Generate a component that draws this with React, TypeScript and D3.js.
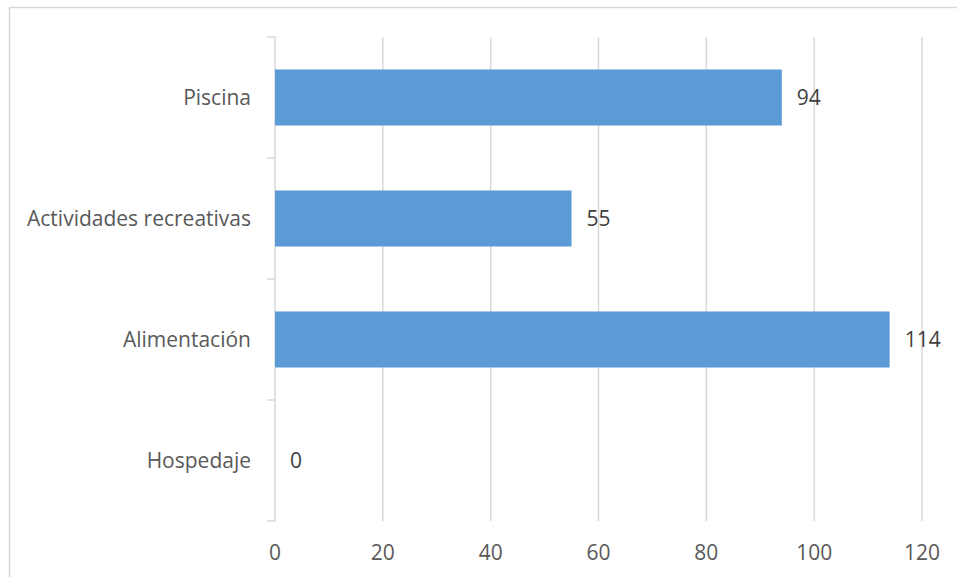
import React from "react";
import * as d3 from "d3";

const categories = ["Piscina", "Actividades recreativas", "Alimentación", "Hospedaje"];
const values = [94, 55, 114, 0];
const xTicks = [0, 20, 40, 60, 80, 100, 120];

export default function App() {
  const W = 957, H = 577;
  const left = 275, right = 922, top = 37, bottom = 521;
  const x = d3.scaleLinear().domain([0, 120]).range([left, right]);
  const y = d3.scaleBand<string>().domain(categories).range([top, bottom]).padding(0);
  const bw = y.bandwidth();
  const barH = bw * 0.463;
  const font = "'Open Sans', sans-serif";
  const grid = "#D9D9D9";
  return (
    <svg width={W} height={H} style={{ position: "absolute", left: 0, top: 0, display: "block" }}>
      <rect x={0} y={0} width={W} height={H} fill="#fff" />
      <rect x={9.5} y={7.5} width={1000} height={1000} fill="none" stroke={grid} strokeWidth={1.5} />
      {xTicks.slice(1).map((t) => (
        <line key={t} x1={x(t)} x2={x(t)} y1={top} y2={bottom} stroke={grid} strokeWidth={1.5} />
      ))}
      <line x1={left} x2={left} y1={top} y2={bottom} stroke={grid} strokeWidth={1.5} />
      {[...categories.map((c) => y(c)!), bottom].map((v, i) => (
        <line key={i} x1={left - 8} x2={left} y1={v} y2={v} stroke={grid} strokeWidth={1.5} />
      ))}
      {categories.map((c, i) => {
        const yc = y(c)! + bw / 2;
        return (
          <g key={c}>
            {values[i] > 0 && (
              <rect x={x(0)} y={yc - barH / 2} width={x(values[i]) - x(0)} height={barH} fill="#5B9BD5" />
            )}
            <text x={left - 24} y={yc} dy="0.35em" textAnchor="end" fontFamily={font} fontSize={21} fill="#595959">
              {c}
            </text>
            <text x={x(values[i]) + 15} y={yc} dy="0.35em" textAnchor="start" fontFamily={font} fontSize={21} fill="#404040">
              {values[i]}
            </text>
          </g>
        );
      })}
      {xTicks.map((t) => (
        <text key={t} x={x(t)} y={553} dy="0.35em" textAnchor="middle" fontFamily={font} fontSize={21} fill="#595959">
          {t}
        </text>
      ))}
    </svg>
  );
}
